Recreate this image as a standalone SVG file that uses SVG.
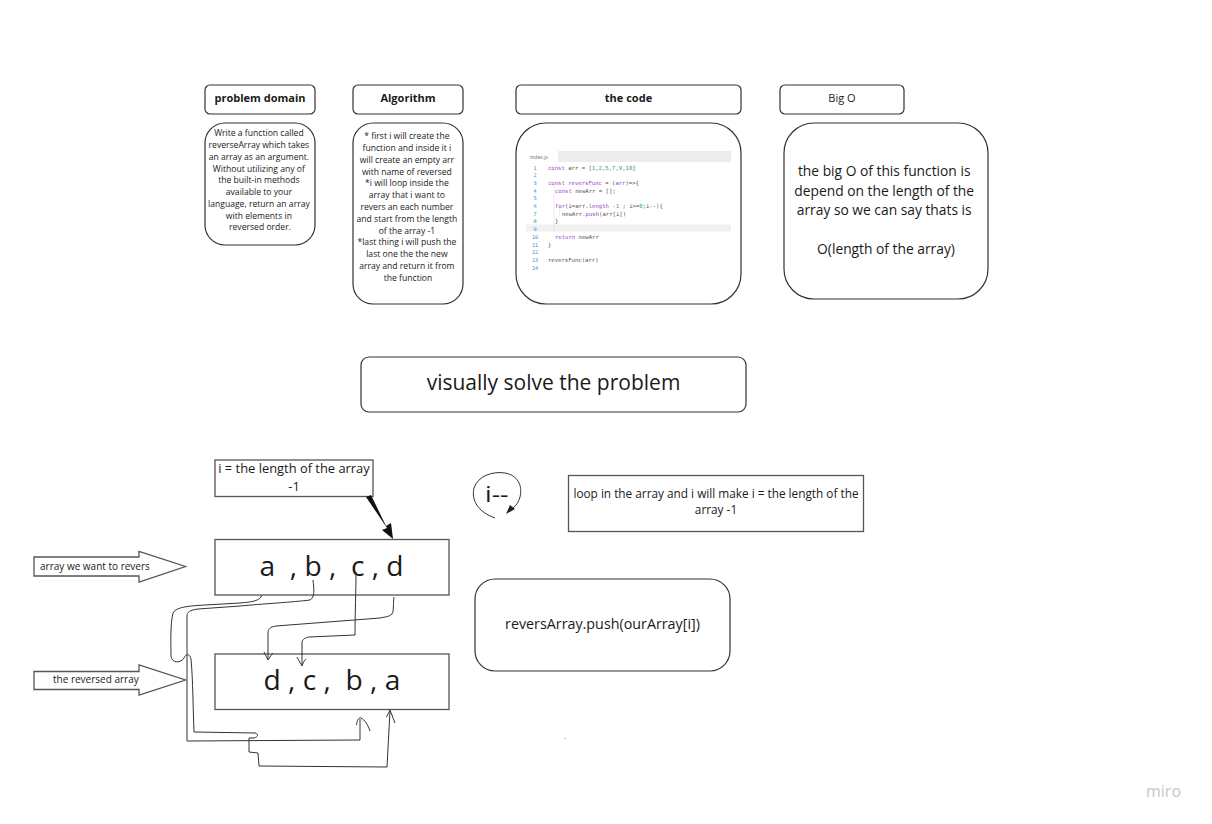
<svg xmlns="http://www.w3.org/2000/svg" width="1212" height="824" viewBox="0 0 1212 824">
<defs>
<style>
.bx{fill:#fff;stroke:#333;stroke-width:1.2}
.sq{fill:#fff;stroke:#555;stroke-width:1.3}
.t{font-family:"Open Sans","Liberation Sans",sans-serif;fill:#1a1a1a;text-anchor:middle}
.hd{font-size:11px;font-weight:bold}
.sm{font-size:8.6px}
.cd{font-family:"DejaVu Sans Mono","Liberation Mono",monospace;font-size:5.6px;fill:#555}
.ln{font-family:"DejaVu Sans Mono","Liberation Mono",monospace;font-size:5.2px;fill:#3a8fb7;text-anchor:middle}
.kw{fill:#9a3fc4}
.nm{fill:#1aa08a}
.cv{fill:none;stroke:#333;stroke-width:1}
</style>
</defs>
<rect width="1212" height="824" fill="#fff"/>

<g id="problem-domain-header">
<rect class="bx" x="205" y="85" width="110" height="29" rx="5"/>
<text class="t hd" x="260" y="102">problem domain</text>
</g>
<g id="algorithm-header">
<rect class="bx" x="353" y="85" width="110" height="29" rx="5"/>
<text class="t hd" x="408" y="102">Algorithm</text>
</g>
<g id="code-header">
<rect class="bx" x="516" y="85" width="225" height="29" rx="5"/>
<text class="t hd" x="628.5" y="102">the code</text>
</g>
<g id="bigo-header">
<rect class="bx" x="780" y="85" width="124" height="29" rx="5"/>
<text class="t" x="842" y="102" font-size="11">Big O</text>
</g>

<g id="problem-domain">
<rect class="bx" x="205" y="123" width="110" height="122" rx="20"/>
<text class="t sm" x="260">
<tspan x="260" y="136">Write a function called</tspan>
<tspan x="260" y="148">reverseArray which takes</tspan>
<tspan x="260" y="159.5">an array as an argument.</tspan>
<tspan x="260" y="171.5">Without utilizing any of</tspan>
<tspan x="260" y="183">the built-in methods</tspan>
<tspan x="260" y="195">available to your</tspan>
<tspan x="260" y="207">language, return an array</tspan>
<tspan x="260" y="218.5">with elements in</tspan>
<tspan x="260" y="230">reversed order.</tspan>
</text>
</g>

<g id="algorithm">
<rect class="bx" x="353" y="123" width="110" height="181" rx="20"/>
<text class="t sm" x="408">
<tspan x="408" y="139">* first i will create the</tspan>
<tspan x="408" y="151">function and inside it i</tspan>
<tspan x="408" y="162.5">will create an empty arr</tspan>
<tspan x="408" y="174.5">with name of reversed</tspan>
<tspan x="408" y="186">*i will loop inside the</tspan>
<tspan x="408" y="198">array that i want to</tspan>
<tspan x="408" y="210">revers an each number</tspan>
<tspan x="408" y="221.5">and start from the length</tspan>
<tspan x="408" y="233.5">of the array -1</tspan>
<tspan x="408" y="245">*last thing i will push the</tspan>
<tspan x="408" y="257">last one the the new</tspan>
<tspan x="408" y="269">array and return it from</tspan>
<tspan x="408" y="280.5">the function</tspan>
</text>
</g>

<g id="code">
<rect class="bx" x="516" y="123" width="225" height="181" rx="30"/>
<rect x="558" y="151" width="173" height="11" fill="#ececec"/>
<text x="530" y="159" font-family="'Open Sans',sans-serif" font-size="5" fill="#666">index.js</text>
<rect x="526" y="224.5" width="205" height="7" fill="#f1f1f1"/>
<line x1="554" y1="185" x2="554" y2="232" stroke="#ddd" stroke-width="0.6"/>
<line x1="559.5" y1="208" x2="559.5" y2="215" stroke="#ddd" stroke-width="0.6"/>
<g class="ln">
<text x="535" y="169.5">1</text><text x="535" y="177.2">2</text><text x="535" y="184.9">3</text><text x="535" y="192.6">4</text><text x="535" y="200.3">5</text><text x="535" y="208">6</text><text x="535" y="215.7">7</text><text x="535" y="223.4">8</text><text x="535" y="231.1">9</text><text x="535" y="238.8">10</text><text x="535" y="246.5">11</text><text x="535" y="254.2">12</text><text x="535" y="261.9">13</text><text x="535" y="269.6">14</text>
</g>
<text class="cd" x="548" y="169.5"><tspan class="kw">const</tspan> arr = [<tspan class="nm">1</tspan>,<tspan class="nm">2</tspan>,<tspan class="nm">5</tspan>,<tspan class="nm">7</tspan>,<tspan class="nm">9</tspan>,<tspan class="nm">10</tspan>]</text>
<text class="cd" x="548" y="184.9"><tspan class="kw">const reversFunc</tspan> = (<tspan class="kw">arr</tspan>)=&gt;{</text>
<text class="cd" x="555" y="192.6"><tspan class="kw">const</tspan> newArr = [];</text>
<text class="cd" x="555" y="208"><tspan class="kw">for</tspan>(i=arr.<tspan class="kw">length</tspan> -<tspan class="nm">1</tspan> ; i&gt;=<tspan class="nm">0</tspan>;i--){</text>
<text class="cd" x="562" y="215.7">newArr.<tspan class="kw">push</tspan>(arr[i])</text>
<text class="cd" x="555" y="223.4">}</text>
<text class="cd" x="555" y="238.8"><tspan class="kw">return</tspan> newArr</text>
<text class="cd" x="548" y="246.5">}</text>
<text class="cd" x="548" y="261.9">reversFunc(arr)</text>
</g>

<g id="bigo">
<rect class="bx" x="784" y="123" width="204" height="176" rx="30"/>
<text class="t" font-size="13.8">
<tspan x="886" y="176">the big O of this function is</tspan>
<tspan x="886" y="195.5">depend on the length of the</tspan>
<tspan x="886" y="215">array so we can say thats is</tspan>
<tspan x="886" y="254">O(length of the array)</tspan>
</text>
</g>

<g id="visually-solve">
<rect class="bx" x="361" y="357" width="385" height="55" rx="8"/>
<text class="t" x="553.5" y="390" font-size="21">visually solve the problem</text>
</g>

<g id="i-length">
<rect class="sq" x="215" y="460" width="158" height="36.5"/>
<text class="t" font-size="12.9"><tspan x="294" y="473">i = the length of the array</tspan><tspan x="294" y="491">-1</tspan></text>
</g>

<g id="i-decrement">
<path class="cv" d="M495,518 C478,512 471,500 474,488 C478,476 492,471 505,473 C517,475 523,485 520,497 C518,504 514,508 509,511"/>
<polygon points="506,514 510,505 515,509" fill="#222"/>
<text transform="translate(485,502) scale(1.25,1)" x="0" y="0" font-family="'Open Sans',sans-serif" font-size="21" fill="#1a1a1a">i--</text>
</g>

<g id="loop-note">
<rect class="sq" x="568.5" y="475.5" width="295" height="56"/>
<text class="t" font-size="11.8"><tspan x="716" y="498">loop in the array and i will make i = the length of the</tspan><tspan x="716" y="514">array -1</tspan></text>
</g>

<g id="array-original">
<rect class="sq" x="215" y="539.5" width="234" height="55.5"/>
<text x="259.5" y="576" font-family="'Open Sans',sans-serif" font-size="28.2" fill="#1a1a1a" xml:space="preserve">a  , b ,  c , d</text>
</g>

<g id="array-reversed">
<rect class="sq" x="215" y="654" width="234" height="55.5"/>
<text x="263.5" y="690" font-family="'Open Sans',sans-serif" font-size="28.2" fill="#1a1a1a" xml:space="preserve">d , c ,  b , a</text>
</g>

<g id="label-original">
<polygon class="sq" points="34,557 139,557 139,551.5 185.5,566.5 139,582 139,576 34,576"/>
<text x="40" y="569.5" font-family="'Open Sans',sans-serif" font-size="10" fill="#1a1a1a">array we want to revers</text>
</g>

<g id="label-reversed">
<polygon class="sq" points="34,671.5 139,671.5 139,665 185.5,680 139,695 139,689.5 34,689.5"/>
<text x="53" y="683" font-family="'Open Sans',sans-serif" font-size="10" fill="#1a1a1a">the reversed array</text>
</g>

<g id="push-note">
<rect class="bx" x="475" y="579" width="255" height="92" rx="20"/>
<text class="t" x="602.5" y="629" font-size="14.3">reversArray.push(ourArray[i])</text>
</g>

<g id="connectors">
<polygon points="366,497 371,495 386,526 391,523 393,539 382,530 387,528" fill="#111"/>
<path class="cv" d="M262,595 C260,601 252,602 240,603 L205,605 C188,606 176,607 173,613 C170,625 171,645 171,656 C172,664 181,663 184,658 C186,653 190,654 191,659 C193,680 193,710 194,732 L255,733 C259,734 258,737 254,738 L249,738 L249,752 L258,753 L259,766 L387,767 L390,711"/>
<path class="cv" d="M386.5,717 L390,710 L395,723"/>
<path class="cv" d="M313,580 C314,590 315,597 310,600 C295,602 260,604 240,606 L198,609 C190,610 187,612 187,616 L187,741 L360,740 L360,719"/>
<path class="cv" d="M356.5,725 C357,720 359,717 361,718 C365,720 368,725 370,731"/>
<path class="cv" d="M356,572 C356,590 355,615 355,635 L309,637 C304,638 302,640 302,643 L302,665"/>
<path class="cv" d="M297,657 C299,661 301,664 302,666 C303,663 304,661 306,659"/>
<path class="cv" d="M394,597 C393,604 394,611 392,614 C389,617 384,617 380,618 L276,626 C270,627 268,629 268,633 L268,659"/>
<path class="cv" d="M264,652 C266,656 267,658 268,660 C270,657 271,655 273,653"/>
</g>

<text x="564" y="739" font-family="'Open Sans',sans-serif" font-size="8" fill="#555">.</text>
<text x="1146" y="797" font-family="'Open Sans','Liberation Sans',sans-serif" font-size="16" fill="#c6c6cc">miro</text>
</svg>
